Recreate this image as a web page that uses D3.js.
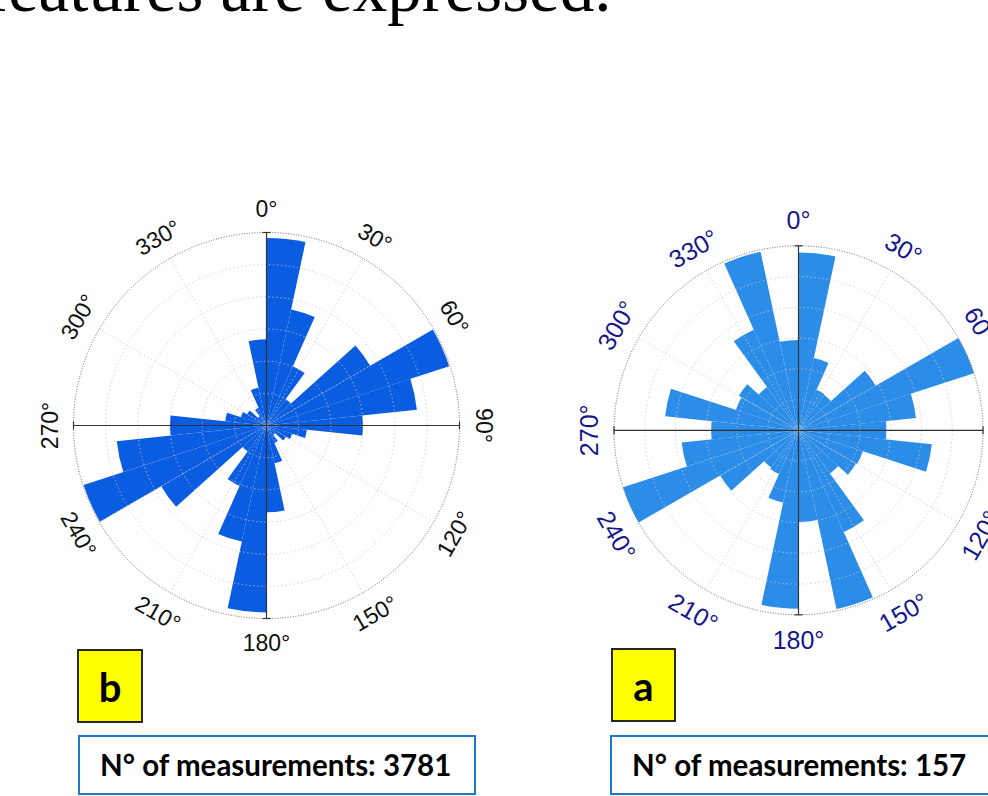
<!DOCTYPE html>
<html>
<head>
<meta charset="utf-8">
<script src="https://cdn.jsdelivr.net/npm/d3@7"></script>
<style>
  html, body { margin: 0; padding: 0; background: #fff; overflow: hidden; }
  svg { display: block; }
</style>
</head>
<body>
<svg id="fig" width="988" height="796"></svg>
<script>
// Direction classes: start azimuth of each 12° sector, clockwise from north
const sectorStarts = [0, 12, 24, 36, 48, 60, 72, 84, 96, 108, 120, 132, 144, 156, 168,
                      180, 192, 204, 216, 228, 240, 252, 264, 276, 288, 300, 312, 324, 336, 348];

// Panel b: lineament counts per sector (3781 measurements)
const countsB = [583, 369, 202, 102, 372, 597, 470, 300, 126, 84, 70, 36, 60, 120, 270,
                 581, 369, 206, 100, 378, 598, 468, 300, 129, 84, 70, 36, 60, 120, 268];

// Panel a: lineament counts per sector (157 measurements)
const countsA = [28.9, 12.0, 7.2, 7.1, 14.5, 30.0, 19.2, 14.3, 21.8, 11.0, 10.8, 8.7, 18.1, 29.7, 14.9,
                 29.0, 12.0, 7.8, 7.5, 14.7, 30.0, 19.1, 14.2, 21.8, 10.7, 11.2, 8.7, 17.9, 29.7, 14.7];

// Angular tick labels and radial grid rings
const angleTicks = [0, 30, 60, 90, 120, 150, 180, 210, 240, 270, 300, 330];
const ringsB = [100, 200, 300, 400, 500, 600];
const ringsA = [5, 10, 15, 20, 25, 30];

// Panel captions
const panelLetters = ["b", "a"];
const measurementTotals = [3781, 157];

const svg = d3.select("#fig");

// Heading line of the surrounding text
svg.append("text")
  .attr("x", -15).attr("y", 11)
  .attr("font-family", "'Liberation Serif', 'Times New Roman', serif")
  .attr("font-size", 69)
  .attr("fill", "#000")
  .text("features are expressed.");

const panels = [
  { counts: countsB, rings: ringsB, cx: 266.5, cy: 425.5, R: 193, labelR: 217,
    fill: "#0a5ce0", labelColor: "#111", labelSize: 23,
    letter: panelLetters[0], total: measurementTotals[0],
    letterBox: { x: 78, y: 650, w: 64, h: 72 }, countBox: { x: 79, y: 736, w: 396, h: 58 } },
  { counts: countsA, rings: ringsA, cx: 798.5, cy: 430.3, R: 184.5, labelR: 210,
    fill: "#2b8de8", labelColor: "#17178c", labelSize: 25,
    letter: panelLetters[1], total: measurementTotals[1],
    letterBox: { x: 612, y: 649, w: 63, h: 72 }, countBox: { x: 611, y: 736, w: 396, h: 58 } }
];

const sectorWidth = sectorStarts[1] - sectorStarts[0];
const toRad = d3.scaleLinear().domain([0, 360]).range([0, 2 * Math.PI]);

function labelRotation(a) {
  if (a <= 90) return a;
  if (a < 270) return a - 180;
  return a - 360;
}

panels.forEach(p => {
  const rMax = p.rings[p.rings.length - 1];
  const r = d3.scaleLinear().domain([0, rMax]).range([0, p.R]);
  const g = svg.append("g").attr("transform", `translate(${p.cx},${p.cy})`);

  const data = sectorStarts.map((s, i) => ({ start: s, value: p.counts[i] }));

  // Rose sectors
  const arc = d3.arc()
    .innerRadius(0)
    .outerRadius(d => r(d.value))
    .startAngle(d => toRad(d.start))
    .endAngle(d => toRad(d.start + sectorWidth));

  g.append("g").selectAll("path")
    .data(data)
    .enter().append("path")
    .attr("d", arc)
    .attr("fill", p.fill);

  // Inner rings
  g.append("g").selectAll("circle")
    .data(p.rings.slice(0, -1))
    .enter().append("circle")
    .attr("r", d => r(d))
    .attr("fill", "none")
    .attr("stroke", "#c8c8c8")
    .attr("stroke-width", 0.8)
    .attr("stroke-dasharray", "1.5,2.5");

  // Outer ring
  g.append("circle")
    .attr("r", r(rMax))
    .attr("fill", "none")
    .attr("stroke", "#555")
    .attr("stroke-width", 0.9)
    .attr("stroke-dasharray", "1,1.6");

  // Radial spokes every 30°
  const pt = (a, rad) => [rad * Math.sin(toRad(a)), -rad * Math.cos(toRad(a))];
  g.append("g").selectAll("line")
    .data(angleTicks.filter(a => a % 90 !== 0))
    .enter().append("line")
    .attr("x1", 0).attr("y1", 0)
    .attr("x2", a => pt(a, r(rMax))[0])
    .attr("y2", a => pt(a, r(rMax))[1])
    .attr("stroke", "#c8c8c8")
    .attr("stroke-width", 0.8)
    .attr("stroke-dasharray", "1.5,2.5");

  // Main N–S and E–W axes with end caps
  const axisColor = "#333";
  const Rr = r(rMax);
  const cap = 4;
  g.append("line").attr("x1", -Rr).attr("y1", 0).attr("x2", Rr).attr("y2", 0)
    .attr("stroke", axisColor).attr("stroke-width", 1.2);
  g.append("line").attr("x1", 0).attr("y1", -Rr).attr("x2", 0).attr("y2", Rr)
    .attr("stroke", axisColor).attr("stroke-width", 1.2);
  [[-Rr, 0, true], [Rr, 0, true], [0, -Rr, false], [0, Rr, false]].forEach(([x, y, vert]) => {
    g.append("line")
      .attr("x1", vert ? x : x - cap).attr("x2", vert ? x : x + cap)
      .attr("y1", vert ? y - cap : y).attr("y2", vert ? y + cap : y)
      .attr("stroke", axisColor).attr("stroke-width", 1.2);
  });

  // Angle labels
  g.append("g").selectAll("text")
    .data(angleTicks)
    .enter().append("text")
    .attr("transform", a => {
      const [x, y] = pt(a, p.labelR);
      return `translate(${x},${y}) rotate(${labelRotation(a)})`;
    })
    .attr("text-anchor", "middle")
    .attr("dominant-baseline", "central")
    .attr("font-family", "'Liberation Sans', Arial, Helvetica, sans-serif")
    .attr("font-size", p.labelSize)
    .attr("fill", p.labelColor)
    .text(a => a + "°");

  // Panel letter in a yellow box
  const lb = p.letterBox;
  svg.append("rect")
    .attr("x", lb.x).attr("y", lb.y).attr("width", lb.w).attr("height", lb.h)
    .attr("fill", "#ffff00").attr("stroke", "#111").attr("stroke-width", 1.8);
  svg.append("text")
    .attr("x", lb.x + lb.w / 2).attr("y", lb.y + 52)
    .attr("text-anchor", "middle")
    .attr("font-family", "Lato, 'Liberation Sans', Arial, sans-serif")
    .attr("font-weight", 700)
    .attr("font-size", 40)
    .attr("fill", "#000")
    .text(p.letter);

  // Measurement count box
  const cb = p.countBox;
  svg.append("rect")
    .attr("x", cb.x).attr("y", cb.y).attr("width", cb.w).attr("height", cb.h)
    .attr("fill", "#fff").attr("stroke", "#1f78c8").attr("stroke-width", 2);
  svg.append("text")
    .attr("x", cb.x + 21).attr("y", cb.y + 40)
    .attr("font-family", "Lato, 'Liberation Sans', Arial, sans-serif")
    .attr("font-weight", 700)
    .attr("font-size", 29.5)
    .attr("fill", "#000")
    .text("N° of measurements: " + p.total);
});
</script>
</body>
</html>
